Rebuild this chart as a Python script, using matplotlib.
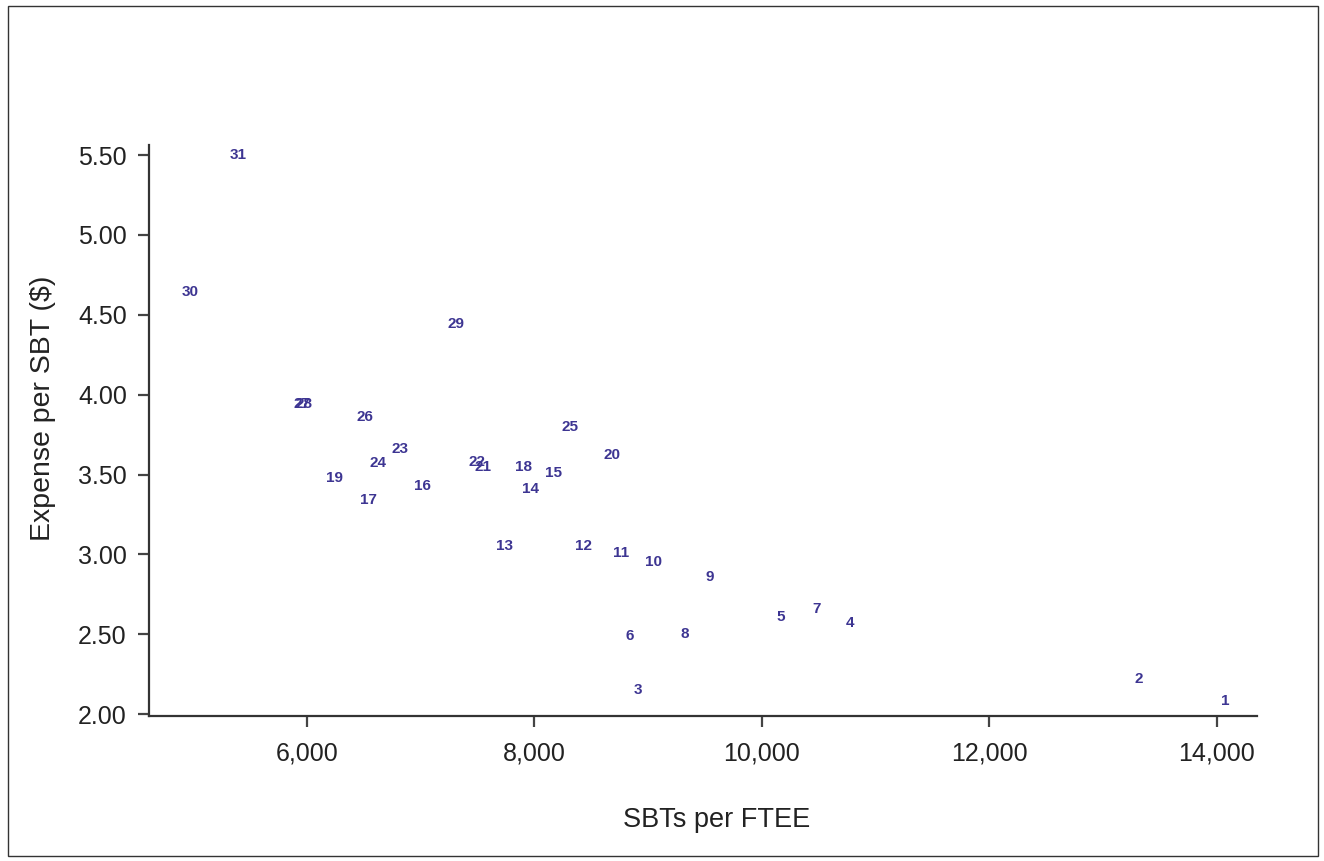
import matplotlib
matplotlib.use("Agg")
import matplotlib.pyplot as plt
from matplotlib.patches import Rectangle
from matplotlib.ticker import FuncFormatter

plt.rcParams['font.family'] = ['Liberation Sans', 'DejaVu Sans']

# Data: label number, SBTs per FTEE, Expense per SBT ($)
labels = ["1", "2", "3", "4", "5", "6", "7", "8", "9", "10",
          "11", "12", "13", "14", "15", "16", "17", "18", "19", "20",
          "21", "22", "23", "24", "25", "26", "27", "28", "29", "30", "31"]
sbts_per_ftee = [14073, 13311, 8915, 10776, 10167, 8836, 10484, 9326, 9545, 9053,
                 8760, 8432, 7735, 7969, 8168, 7020, 6542, 7904, 6243, 8681,
                 7553, 7494, 6820, 6630, 8315, 6513, 5960, 5975, 7313, 4974, 5396]
expense_per_sbt = [2.08, 2.22, 2.15, 2.57, 2.61, 2.49, 2.66, 2.505, 2.86, 2.955,
                   3.01, 3.05, 3.05, 3.41, 3.51, 3.43, 3.34, 3.55, 3.48, 3.62,
                   3.545, 3.58, 3.66, 3.57, 3.80, 3.86, 3.94, 3.94, 4.44, 4.64, 5.50]

x_ticks = [6000, 8000, 10000, 12000, 14000]
y_ticks = [2.00, 2.50, 3.00, 3.50, 4.00, 4.50, 5.00, 5.50]

W, H = 1324, 861
fig = plt.figure(figsize=(W / 100, H / 100), dpi=100)
ax = fig.add_axes([149 / W, 1 - 716 / H, (1257 - 149) / W, (716 - 145) / H])

label_color = "#3d3592"
ax.scatter(sbts_per_ftee, expense_per_sbt, s=0, alpha=0)
for lab, xv, yv in zip(labels, sbts_per_ftee, expense_per_sbt):
    ax.text(xv, yv, lab, ha="center", va="center", fontsize=11,
            color=label_color, fontweight="bold",
            family=['Liberation Sans Narrow', 'Liberation Sans', 'DejaVu Sans'])

ax.set_xlim(4614, 14354)
ax.set_ylim(1.989, 5.563)
ax.set_xticks(x_ticks)
ax.set_yticks(y_ticks)
ax.xaxis.set_major_formatter(FuncFormatter(lambda v, p: f"{v:,.0f}"))
ax.yaxis.set_major_formatter(FuncFormatter(lambda v, p: f"{v:.2f}"))

for side in ("top", "right"):
    ax.spines[side].set_visible(False)
for side in ("left", "bottom"):
    ax.spines[side].set_linewidth(1.6)
    ax.spines[side].set_color("#333333")

ax.tick_params(axis="both", direction="out", length=8, width=1.6,
               color="#444444", labelsize=18, labelcolor="#222222")
ax.tick_params(axis="x", pad=10)
ax.tick_params(axis="y", pad=8)

fig.text(717 / W, 1 - 820 / H, "SBTs per FTEE", fontsize=19.5, color="#222222",
         ha="center", va="center")
fig.text(43 / W, 1 - 408 / H, "Expense per SBT ($)", fontsize=20.5, color="#222222",
         ha="center", va="center", rotation=90)

# outer frame
fig.patches.append(Rectangle((8 / W, 1 - 856 / H), (1318 - 8) / W, (856 - 6) / H,
                             transform=fig.transFigure, fill=False,
                             edgecolor="#333333", linewidth=1.0))

fig.savefig("out.png", dpi=100, facecolor="white")
